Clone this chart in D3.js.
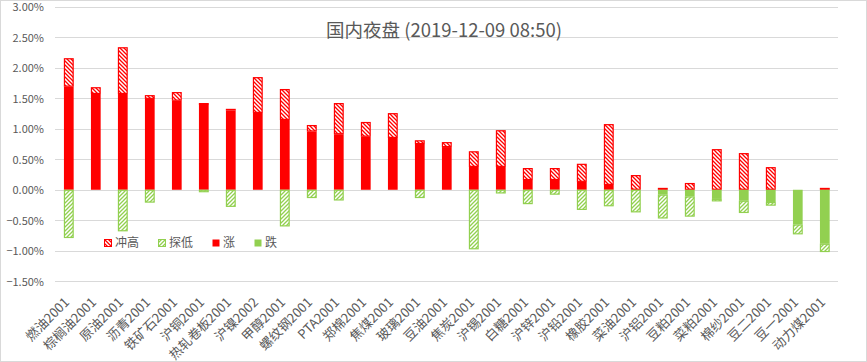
<!DOCTYPE html>
<html lang="zh">
  <head>
    <meta charset="UTF-8" />
    <title>国内夜盘</title>
    <style>
      body { margin: 0; background: #fff; }
      text { font-family: "Noto Sans CJK SC", sans-serif; fill: #595959; }
      .grid line { stroke: #d9d9d9; shape-rendering: crispEdges; }
    </style>
  </head>
  <body>
    <div id="chart"></div>
    <script src="https://d3js.org/d3.v7.min.js"></script>
    <script>
      const categories = ['燃油2001', '棕榈油2001', '原油2001', '沥青2001', '铁矿石2001', '沪铜2001',
        '热轧卷板2001', '沪镍2002', '甲醇2001', '螺纹钢2001', 'PTA2001', '郑棉2001', '焦煤2001',
        '玻璃2001', '豆油2001', '焦炭2001', '沪锡2001', '白糖2001', '沪锌2001', '沪铅2001',
        '橡胶2001', '菜油2001', '沪铝2001', '豆粕2001', '菜粕2001', '棉纱2001', '豆二2001',
        '豆一2001', '动力煤2001'];
      // percent values
      const close = [1.69, 1.57, 1.57, 1.49, 1.46, 1.39, 1.30, 1.26, 1.145, 0.955, 0.91, 0.87, 0.85,
        0.75, 0.70, 0.375, 0.375, 0.16, 0.16, 0.13, 0.08, 0, -0.08, -0.11, -0.15, -0.18, -0.20,
        -0.57, -0.885];
      const high = [2.155, 1.68, 2.335, 1.55, 1.60, 1.42, 1.325, 1.845, 1.65, 1.06, 1.42, 1.11, 1.255,
        0.81, 0.78, 0.63, 0.975, 0.355, 0.355, 0.425, 1.075, 0.24, 0.03, 0.11, 0.665, 0.60, 0.37,
        0, 0.03];
      const low = [-0.79, 0, -0.68, -0.21, 0, -0.04, -0.28, 0, -0.60, -0.135, -0.175, 0, 0,
        -0.135, 0, -0.975, -0.06, -0.235, -0.08, -0.33, -0.27, -0.37, -0.47, -0.44, -0.19, -0.38,
        -0.26, -0.73, -1.02];
      const yTicks = [-1.5, -1, -0.5, 0, 0.5, 1, 1.5, 2, 2.5, 3];
      const legendNames = ['冲高', '探低', '涨', '跌'];

      const W = 867, H = 362;
      const red = '#ff0000', green = '#92d050';

      const svg = d3.select('#chart').append('svg').attr('width', W).attr('height', H);

      const defs = svg.append('defs');
      function hatch(id, color, down) {
        const p = defs.append('pattern').attr('id', id).attr('patternUnits', 'userSpaceOnUse')
          .attr('width', 4).attr('height', 4);
        p.append('rect').attr('width', 4).attr('height', 4).attr('fill', '#fff');
        const d = down ? 'M-1,-1 L5,5 M-1,3 L1,5 M3,-1 L5,1' : 'M-1,5 L5,-1 M-1,1 L1,-1 M3,5 L5,3';
        p.append('path').attr('d', d).attr('stroke', color).attr('stroke-width', 1.3);
      }
      hatch('hRed', red, true);
      hatch('hGreen', green, false);

      // outer border
      svg.append('rect').attr('x', 0.5).attr('y', 0.5).attr('width', W - 1).attr('height', H - 1)
        .attr('fill', 'none').attr('stroke', '#d9d9d9');

      const x = d3.scaleBand().domain(categories).range([55.3, 838.3])
        .paddingInner(0.64).paddingOuter(0.32);
      const y = d3.scaleLinear().domain([-1.5, 3]).range([281.3, 6.7]);

      // gridlines + y labels
      const grid = svg.append('g').attr('class', 'grid');
      grid.selectAll('line').data(yTicks).join('line')
        .attr('x1', 55).attr('x2', 838)
        .attr('y1', d => Math.round(y(d)) + 0.5).attr('y2', d => Math.round(y(d)) + 0.5);
      svg.append('g').selectAll('text').data(yTicks).join('text')
        .attr('x', 44).attr('y', d => y(d) + 0.5).attr('dy', '0.35em')
        .attr('text-anchor', 'end').style('font-size', '11px')
        .text(d => d3.format('.2f')(d) + '%');

      // stacked segments
      const segs = [];
      categories.forEach((c, i) => {
        const up = Math.max(close[i], 0), dn = Math.min(close[i], 0);
        if (up > 0) segs.push({ c, y0: 0, y1: up, type: 'up' });
        if (high[i] > up) segs.push({ c, y0: up, y1: high[i], type: 'high' });
        if (dn < 0) segs.push({ c, y0: dn, y1: 0, type: 'down' });
        if (low[i] < dn) segs.push({ c, y0: low[i], y1: dn, type: 'low' });
      });
      const fills = { up: red, high: 'url(#hRed)', down: green, low: 'url(#hGreen)' };
      const strokes = { up: 'none', high: red, down: 'none', low: green };
      const inset = d => (d.type === 'high' || d.type === 'low' ? 0.5 : 0);
      svg.append('g').selectAll('rect').data(segs).join('rect')
        .attr('x', d => x(d.c) + inset(d))
        .attr('width', d => x.bandwidth() - 2 * inset(d))
        .attr('y', d => y(d.y1) + inset(d))
        .attr('height', d => Math.max(0.5, y(d.y0) - y(d.y1) - 2 * inset(d)))
        .attr('fill', d => fills[d.type])
        .attr('stroke', d => strokes[d.type])
        .attr('stroke-width', 1.2);

      // x labels
      svg.append('g').selectAll('text').data(categories).join('text')
        .attr('transform', d => `translate(${x(d) + x.bandwidth() / 2 - 2},${300}) rotate(-45)`)
        .attr('text-anchor', 'end').attr('dy', '0.35em').style('font-size', '13px')
        .text(d => d);

      // legend
      const legendX = [104, 158, 212, 254];
      const legendFill = ['url(#hRed)', 'url(#hGreen)', red, green];
      const legendStroke = [red, green, 'none', 'none'];
      const lg = svg.append('g').selectAll('g').data(legendNames).join('g')
        .attr('transform', (d, i) => `translate(${legendX[i]},243)`);
      lg.append('rect').attr('x', 0.5).attr('y', -3.5).attr('width', 7).attr('height', 7)
        .attr('fill', (d, i) => legendFill[i]).attr('stroke', (d, i) => legendStroke[i]);
      lg.append('text').attr('x', 11).attr('dy', '0.35em').style('font-size', '12px').text(d => d);

      // title
      svg.append('text').attr('x', 444).attr('y', 31).attr('dy', '0.35em')
        .attr('text-anchor', 'middle').style('font-size', '18.5px')
        .text('国内夜盘 (2019-12-09 08:50)');
    </script>
  </body>
</html>
